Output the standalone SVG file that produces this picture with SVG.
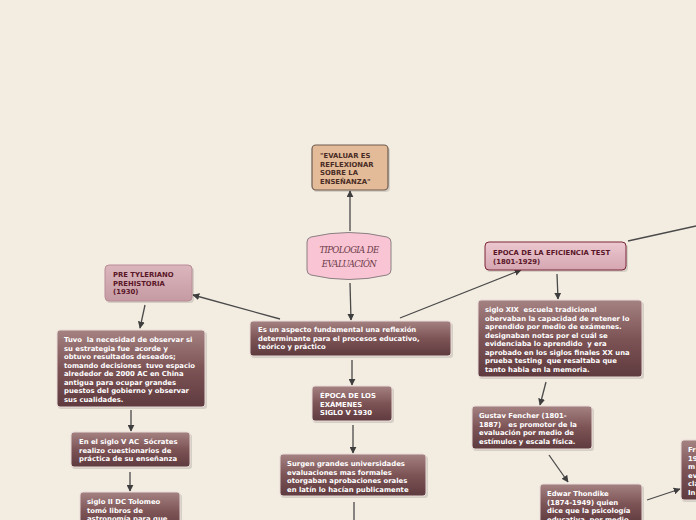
<svg xmlns="http://www.w3.org/2000/svg" width="696" height="520" viewBox="0 0 696 520">
<defs>
<linearGradient id="gd" x1="0" y1="0" x2="0" y2="1">
<stop offset="0" stop-color="#a58282"/>
<stop offset="0.5" stop-color="#7d5456"/>
<stop offset="1" stop-color="#5e3a3e"/>
</linearGradient>
<linearGradient id="gp" x1="0" y1="0" x2="0" y2="1">
<stop offset="0" stop-color="#dcb6bd"/>
<stop offset="1" stop-color="#c59aa3"/>
</linearGradient>
<linearGradient id="ge" x1="0" y1="0" x2="0" y2="1">
<stop offset="0" stop-color="#ecc8d0"/>
<stop offset="1" stop-color="#d5a6b1"/>
</linearGradient>
<marker id="ah" viewBox="0 0 10 10" refX="9" refY="5" markerWidth="7" markerHeight="7" orient="auto" markerUnits="userSpaceOnUse">
<path d="M0,0 L10,5 L0,10 z" fill="#3e3e3e"/>
</marker>
</defs>
<style>
.bg{fill:#f3ece1}
.dk{fill:url(#gd);stroke:#e8dcd8;stroke-width:1}
.pk{fill:url(#gp);stroke:#b88c96;stroke-width:1}
.ef{fill:url(#ge);stroke:#7a2636;stroke-width:1}
.tn{fill:#e4bb98;stroke:#6e5c50;stroke-width:1.2}
.sh{fill:#000;opacity:0.12}
text{white-space:pre}
.w{font-family:"DejaVu Sans",Verdana,sans-serif;font-weight:bold;font-size:6.85px;fill:#ffffff}
.m{font-family:"DejaVu Sans",Verdana,sans-serif;font-weight:bold;font-size:6.85px;fill:#5a1628}
.t{font-family:"DejaVu Sans",Verdana,sans-serif;font-weight:bold;font-size:6.85px;fill:#4a2c26}
.c line,.c path{stroke:#4a4a4a;stroke-width:1.3;fill:none}
</style>
<rect class="bg" x="0" y="0" width="696" height="520"/>

<g class="c" id="connectors">
<line x1="350" y1="231" x2="350" y2="191" marker-end="url(#ah)"/>
<line x1="350" y1="283" x2="351" y2="320" marker-end="url(#ah)"/>
<line x1="280" y1="319" x2="193" y2="295" marker-end="url(#ah)"/>
<line x1="145" y1="305" x2="140" y2="328" marker-end="url(#ah)"/>
<line x1="131" y1="410" x2="131" y2="431" marker-end="url(#ah)"/>
<line x1="130" y1="472" x2="130" y2="491" marker-end="url(#ah)"/>
<line x1="352" y1="360" x2="352" y2="385" marker-end="url(#ah)"/>
<line x1="353" y1="425" x2="353" y2="453" marker-end="url(#ah)"/>
<line x1="354" y1="502" x2="354" y2="520"/>
<line x1="400" y1="318" x2="521" y2="270" marker-end="url(#ah)"/>
<line x1="628" y1="241" x2="696" y2="226"/>
<line x1="557" y1="274" x2="558" y2="299" marker-end="url(#ah)"/>
<line x1="546" y1="382" x2="540" y2="405" marker-end="url(#ah)"/>
<line x1="549" y1="455" x2="568" y2="482" marker-end="url(#ah)"/>
<line x1="647" y1="500" x2="680" y2="489" marker-end="url(#ah)"/>
</g>

<g id="n-evaluar">
<rect class="sh" x="313" y="147" width="77" height="45" rx="4"/>
<rect class="tn" x="312" y="145" width="76" height="45" rx="4"/>
<text class="t" x="320" y="158">"EVALUAR ES</text>
<text class="t" x="320" y="166.5">REFLEXIONAR</text>
<text class="t" x="320" y="175">SOBRE LA</text>
<text class="t" x="320" y="183.5">ENSEÑANZA"</text>
</g>

<g id="n-tipologia">
<path d="M307,242 Q307,238 311,237 Q349,228 387,237 Q391,238 391,242 L391,270 Q391,274 387,275 Q349,284 311,275 Q307,274 307,270 Z" fill="#f9c4d3" stroke="#8a8082" stroke-width="1"/>
<text x="349" y="253" text-anchor="middle" font-family="'DejaVu Serif',serif" font-style="italic" font-size="8.5px" fill="#6a3a48" letter-spacing="-0.6">TIPOLOGIA DE</text>
<text x="349" y="267" text-anchor="middle" font-family="'DejaVu Serif',serif" font-style="italic" font-size="8.5px" fill="#6a3a48" letter-spacing="-0.6">EVALUACIÓN</text>
</g>

<g id="n-aspecto">
<rect class="sh" x="251" y="323" width="202" height="35" rx="3"/>
<rect class="dk" x="250" y="321" width="201" height="35" rx="3"/>
<text class="w" x="258" y="332">Es un aspecto fundamental una reflexión</text>
<text class="w" x="258" y="340.5">determinante para el procesos educativo,</text>
<text class="w" x="258" y="349">teórico y práctico</text>
</g>

<g id="n-pretyleriano">
<rect class="sh" x="106" y="267" width="88" height="36" rx="4"/>
<rect class="pk" x="105" y="265" width="87" height="36" rx="4"/>
<text class="m" x="113" y="277">PRE TYLERIANO</text>
<text class="m" x="113" y="285.5">PREHISTORIA</text>
<text class="m" x="113" y="294">(1930)</text>
</g>

<g id="n-tuvo">
<rect class="sh" x="58" y="332" width="149" height="77" rx="3"/>
<rect class="dk" x="57" y="330" width="148" height="77" rx="3"/>
<text class="w" x="64" y="342">Tuvo  la necesidad de observar si</text>
<text class="w" x="64" y="350.5">su estrategia fue  acorde y</text>
<text class="w" x="64" y="359">obtuvo resultados deseados;</text>
<text class="w" x="64" y="367.5">tomando decisiones  tuvo espacio</text>
<text class="w" x="64" y="376">alrededor de 2000 AC en China</text>
<text class="w" x="64" y="384.5">antigua para ocupar grandes</text>
<text class="w" x="64" y="393">puestos del gobierno y observar</text>
<text class="w" x="64" y="401.5">sus cualidades.</text>
</g>

<g id="n-socrates">
<rect class="sh" x="72" y="434" width="120" height="35" rx="3"/>
<rect class="dk" x="71" y="432" width="119" height="35" rx="3"/>
<text class="w" x="79" y="444">En el siglo V AC  Sócrates</text>
<text class="w" x="79" y="452.5">realizo cuestionarios de</text>
<text class="w" x="79" y="461">práctica de su enseñanza</text>
</g>

<g id="n-tolomeo">
<rect class="sh" x="81" y="494" width="101" height="40" rx="3"/>
<rect class="dk" x="80" y="492" width="100" height="40" rx="3"/>
<text class="w" x="87" y="504">siglo II DC Tolomeo</text>
<text class="w" x="87" y="512.5">tomó libros de</text>
<text class="w" x="87" y="521">astronomía para que</text>
</g>

<g id="n-epoca-examenes">
<rect class="sh" x="313" y="388" width="81" height="35" rx="3"/>
<rect class="dk" x="312" y="386" width="80" height="35" rx="3"/>
<text class="w" x="320" y="398">ÉPOCA DE LOS</text>
<text class="w" x="320" y="406.5">EXÁMENES</text>
<text class="w" x="320" y="415">SIGLO V 1930</text>
</g>

<g id="n-surgen">
<rect class="sh" x="281" y="456" width="147" height="42" rx="3"/>
<rect class="dk" x="280" y="454" width="146" height="42" rx="3"/>
<text class="w" x="287" y="466">Surgen grandes universidades</text>
<text class="w" x="287" y="474.5">evaluaciones mas formales</text>
<text class="w" x="287" y="483">otorgaban aprobaciones orales</text>
<text class="w" x="287" y="491.5">en latín lo hacían publicamente</text>
</g>

<g id="n-eficiencia">
<rect class="sh" x="486" y="244" width="142" height="28" rx="4"/>
<rect class="ef" x="485" y="242" width="141" height="28" rx="4"/>
<text class="m" x="493" y="255">EPOCA DE LA EFICIENCIA TEST</text>
<text class="m" x="493" y="263.5">(1801-1929)</text>
</g>

<g id="n-sigloxix">
<rect class="sh" x="479" y="302" width="165" height="77" rx="3"/>
<rect class="dk" x="478" y="300" width="164" height="77" rx="3"/>
<text class="w" x="485" y="312">siglo XIX  escuela tradicional</text>
<text class="w" x="485" y="320.5">obervaban la capacidad de retener lo</text>
<text class="w" x="485" y="329">aprendido por medio de exámenes.</text>
<text class="w" x="485" y="337.5">designaban notas por el cuál se</text>
<text class="w" x="485" y="346">evidenciaba lo aprendido  y era</text>
<text class="w" x="485" y="354.5">aprobado en los siglos finales XX una</text>
<text class="w" x="485" y="363">prueba testing  que resaltaba que</text>
<text class="w" x="485" y="371.5">tanto habia en la memoria.</text>
</g>

<g id="n-gustav">
<rect class="sh" x="473" y="408" width="121" height="43" rx="3"/>
<rect class="dk" x="472" y="406" width="120" height="43" rx="3"/>
<text class="w" x="479" y="418">Gustav Fencher (1801-</text>
<text class="w" x="479" y="426.5">1887)   es promotor de la</text>
<text class="w" x="479" y="435">evaluación por medio de</text>
<text class="w" x="479" y="443.5">estímulos y escala física.</text>
</g>

<g id="n-edwar">
<rect class="sh" x="541" y="486" width="103" height="40" rx="3"/>
<rect class="dk" x="540" y="484" width="102" height="40" rx="3"/>
<text class="w" x="547" y="496">Edwar Thondike</text>
<text class="w" x="547" y="504.5">(1874-1949) quien</text>
<text class="w" x="547" y="513">dice que la psicología</text>
<text class="w" x="547" y="521.5">educativa  por medio</text>
</g>

<g id="n-fr">
<rect class="sh" x="682" y="442" width="20" height="60" rx="3"/>
<rect class="dk" x="681" y="440" width="20" height="60" rx="3"/>
<text class="w" x="688" y="452">Fr</text>
<text class="w" x="688" y="460.5">19</text>
<text class="w" x="688" y="469">m</text>
<text class="w" x="688" y="477.5">ev</text>
<text class="w" x="688" y="486">cla</text>
<text class="w" x="688" y="494.5">In</text>
</g>
</svg>
